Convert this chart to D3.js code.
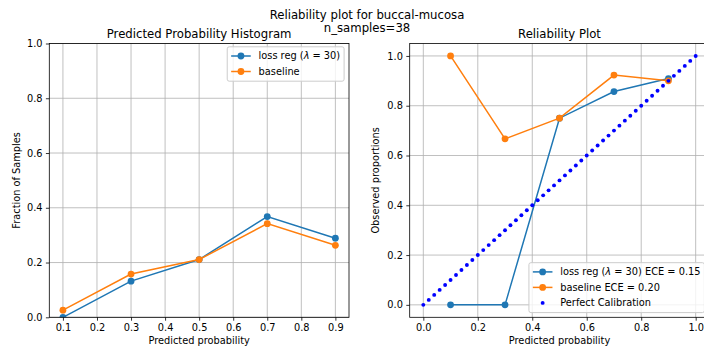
<!DOCTYPE html>
<html>
<head>
<meta charset="utf-8">
<script src="https://cdn.jsdelivr.net/npm/d3@7"></script>
<style>
  body { margin: 0; background: #fff; }
  svg { display: block; }
  text { font-family: "DejaVu Sans", sans-serif; fill: #000; }
</style>
</head>
<body>
<svg id="chart" width="704" height="352"></svg>
<script>
// ---- data ----
const binCenters = [0.1, 0.3, 0.5, 0.7, 0.9];
const fracLoss = [0.0, 0.132, 0.211, 0.368, 0.289];
const fracBase = [0.026, 0.158, 0.211, 0.342, 0.263];
const obsLoss = [0.0, 0.0, 0.75, 0.857, 0.909];
const obsBase = [1.0, 0.667, 0.75, 0.923, 0.9];
// diagonal reference y = x, sampled every 0.02 like the dotted line
const calibX = d3.range(51).map(i => i / 50);

const histTicksX = [0.1, 0.2, 0.3, 0.4, 0.5, 0.6, 0.7, 0.8, 0.9];
const unitTicks = [0.0, 0.2, 0.4, 0.6, 0.8, 1.0];

const lossLabel = [{ t: "loss reg (" }, { t: "λ", it: true }, { t: " = 30)" }];
const eceLoss = "0.15";
const eceBase = "0.20";

const C0 = "#1f77b4", C1 = "#ff7f0e", BLUE = "#0000ff";
const FS = 9.8;   // 10pt at this figure's dpi
const TFS = 11.7; // 12pt

const svg = d3.select("#chart");

// suptitle (figure is wider than the crop, so its centre sits right of 352)
svg.append("text").attr("x", 367).attr("y", 18.6).attr("text-anchor", "middle")
  .style("font-size", TFS + "px").text("Reliability plot for buccal-mucosa");
svg.append("text").attr("x", 367).attr("y", 32.4).attr("text-anchor", "middle")
  .style("font-size", TFS + "px").text("n_samples=38");

function panel(opts) {
  const { x0, x1, y0, y1, xDomain, yDomain, xTicks, yTicks, id } = opts;
  const x = d3.scaleLinear().domain(xDomain).range([x0, x1]);
  const y = d3.scaleLinear().domain(yDomain).range([y1, y0]);
  const g = svg.append("g");

  g.append("clipPath").attr("id", id).append("rect")
    .attr("x", x0).attr("y", y0).attr("width", x1 - x0).attr("height", y1 - y0);

  // grid
  const grid = g.append("g").attr("stroke", "#b0b0b0").attr("stroke-width", 0.8);
  grid.selectAll(".gx").data(xTicks).join("line")
    .attr("x1", d => x(d)).attr("x2", d => x(d)).attr("y1", y0).attr("y2", y1);
  grid.selectAll(".gy").data(yTicks).join("line")
    .attr("y1", d => y(d)).attr("y2", d => y(d)).attr("x1", x0).attr("x2", x1);

  // axes
  const ax = g.append("g").attr("transform", `translate(0,${y1})`)
    .call(d3.axisBottom(x).tickValues(xTicks).tickFormat(d3.format(".1f"))
      .tickSize(3.4).tickPadding(3.4).tickSizeOuter(0));
  const ay = g.append("g").attr("transform", `translate(${x0},0)`)
    .call(d3.axisLeft(y).tickValues(yTicks).tickFormat(d3.format(".1f"))
      .tickSize(3.4).tickPadding(3.4).tickSizeOuter(0));
  [ax, ay].forEach(a => {
    a.select(".domain").remove();
    a.attr("font-family", null).attr("font-size", null);
    a.selectAll("text").style("font-size", FS + "px").attr("fill", "#000");
    a.selectAll("line").attr("stroke", "#000").attr("stroke-width", 0.8);
  });

  const data = g.append("g").attr("clip-path", `url(#${id})`);

  // spines
  g.append("rect").attr("x", x0).attr("y", y0).attr("width", x1 - x0).attr("height", y1 - y0)
    .attr("fill", "none").attr("stroke", "#000").attr("stroke-width", 0.8);

  // titles / labels
  g.append("text").attr("x", (x0 + x1) / 2).attr("y", y0 - 5.2).attr("text-anchor", "middle")
    .style("font-size", TFS + "px").text(opts.title);
  g.append("text").attr("x", (x0 + x1) / 2).attr("y", 344.3).attr("text-anchor", "middle")
    .style("font-size", FS + "px").text(opts.xLabel);
  g.append("text").attr("transform", `translate(${opts.yLabelX},${(y0 + y1) / 2}) rotate(-90)`)
    .attr("text-anchor", "middle").style("font-size", FS + "px").text(opts.yLabel);

  return { x, y, g, data, x0, x1, y0, y1 };
}

function series(p, xs, ys, color) {
  const line = d3.line().x((d, i) => p.x(xs[i])).y(d => p.y(d));
  p.data.append("path").datum(ys).attr("d", line)
    .attr("fill", "none").attr("stroke", color).attr("stroke-width", 1.5);
  p.data.append("g").selectAll("circle").data(ys).join("circle")
    .attr("cx", (d, i) => p.x(xs[i])).attr("cy", d => p.y(d)).attr("r", 3.4).attr("fill", color);
}

function legend(p, items, top) {
  const lg = p.g.append("g");
  const pad = 0.4 * FS, handle = 2 * FS, gap = 0.8 * FS, rowH = 15.5;
  const box = lg.append("rect").attr("rx", 2).attr("ry", 2)
    .attr("fill", "#fff").attr("fill-opacity", 0.8).attr("stroke", "#cccccc").attr("stroke-width", 1);
  const rows = lg.append("g");
  let maxW = 0;
  const texts = items.map((it, i) => {
    const t = rows.append("text").attr("y", 9.2 + i * rowH).attr("dy", "0.35em")
      .style("font-size", FS + "px");
    it.label.forEach(s => {
      t.append("tspan").text(s.t).style("font-style", s.it ? "italic" : null);
    });
    maxW = Math.max(maxW, t.node().getComputedTextLength());
    return t;
  });
  const w = pad + handle + gap + maxW + pad;
  const h = 9.2 + (items.length - 1) * rowH + 9.2 + 0.5;
  const left = p.x1 - 0.5 * FS - w;
  box.attr("x", left).attr("y", top).attr("width", w).attr("height", h);
  items.forEach((it, i) => {
    const cy = top + 9.2 + i * rowH;
    const hx = left + pad;
    if (it.line) {
      lg.append("line").attr("x1", hx).attr("x2", hx + handle).attr("y1", cy).attr("y2", cy)
        .attr("stroke", it.color).attr("stroke-width", 1.5);
    }
    lg.append("circle").attr("cx", hx + handle / 2).attr("cy", cy)
      .attr("r", it.dot ? 1.95 : 3.4).attr("fill", it.color);
    texts[i].attr("x", hx + handle + gap).attr("y", cy);
  });
}

// ---- left: predicted probability histogram ----
const left = panel({
  id: "clipL", x0: 49.3, x1: 349, y0: 43.5, y1: 317.3,
  xDomain: [0.06, 0.94], yDomain: [0, 1],
  xTicks: histTicksX, yTicks: unitTicks,
  title: "Predicted Probability Histogram",
  xLabel: "Predicted probability", yLabel: "Fraction of Samples", yLabelX: 20.3
});
series(left, binCenters, fracLoss, C0);
series(left, binCenters, fracBase, C1);
legend(left, [
  { label: lossLabel, color: C0, line: true },
  { label: [{ t: "baseline" }], color: C1, line: true }
], 46.8);

// ---- right: reliability plot ----
const right = panel({
  id: "clipR", x0: 409.7, x1: 709.3, y0: 43.5, y1: 317.3,
  xDomain: [-0.05, 1.05], yDomain: [-0.05, 1.05],
  xTicks: unitTicks, yTicks: unitTicks,
  title: "Reliability Plot",
  xLabel: "Predicted probability", yLabel: "Observed proportions", yLabelX: 379.3
});
series(right, binCenters, obsLoss, C0);
series(right, binCenters, obsBase, C1);
right.data.append("g").selectAll("circle").data(calibX).join("circle")
  .attr("cx", d => right.x(d)).attr("cy", d => right.y(d)).attr("r", 1.95).attr("fill", BLUE);
legend(right, [
  { label: lossLabel.concat([{ t: " ECE = " + eceLoss }]), color: C0, line: true },
  { label: [{ t: "baseline ECE = " + eceBase }], color: C1, line: true },
  { label: [{ t: "Perfect Calibration" }], color: BLUE, dot: true }
], 262.7);
</script>
</body>
</html>
